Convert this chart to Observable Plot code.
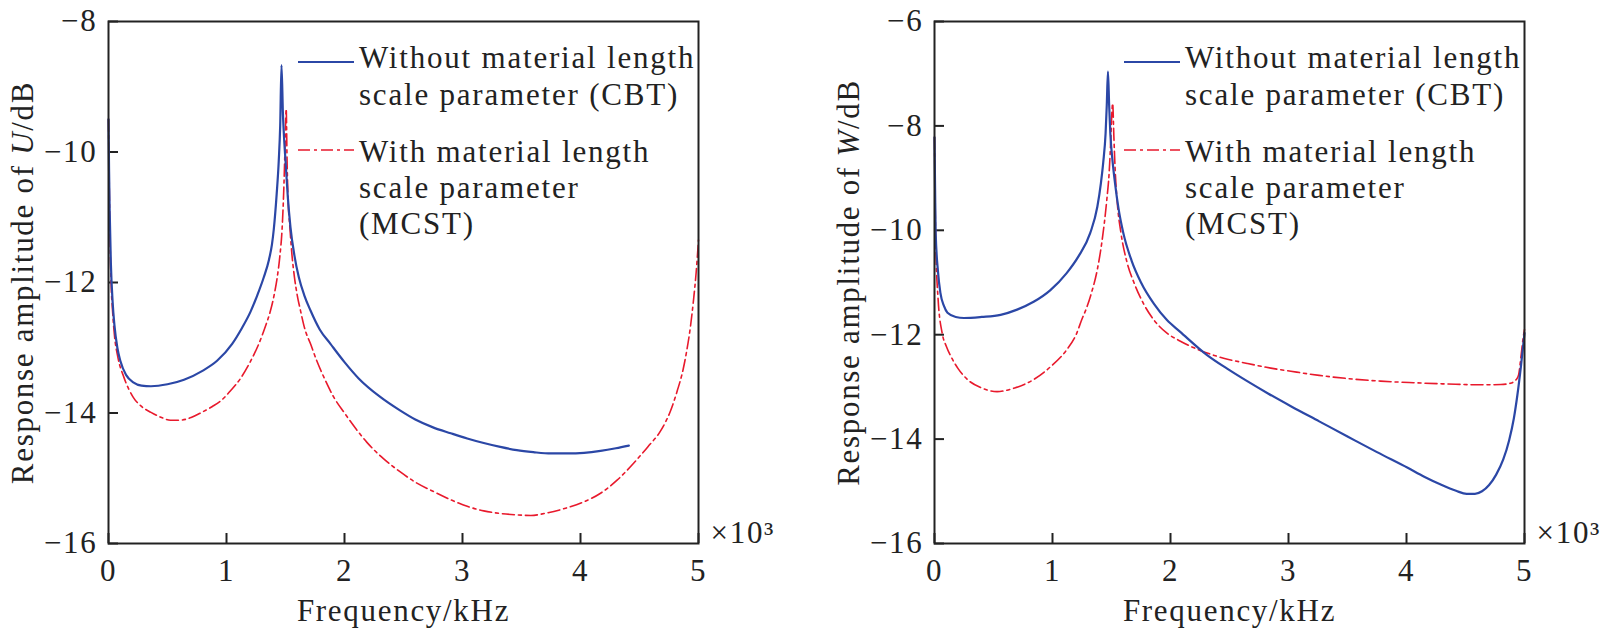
<!DOCTYPE html>
<html><head><meta charset="utf-8">
<script src="https://cdn.jsdelivr.net/npm/d3@7"></script>
<script src="https://cdn.jsdelivr.net/npm/@observablehq/plot@0.6"></script>
<style>
html,body{margin:0;padding:0;background:#fff;overflow:hidden;}
#wrap{display:flex;width:1606px;height:638px;}
#wrap svg{display:block;}
</style></head><body>
<div id="wrap"></div>
<script>
// ---------- data ----------
const xTicks = [0, 1, 2, 3, 4, 5];
const uTicks = [-16, -14, -12, -10, -8];
const wTicks = [-16, -14, -12, -10, -8, -6];
const legendCBT = ["Without material length", "scale parameter (CBT)"];
const legendMCST = ["With material length", "scale parameter", "(MCST)"];

// Left panel: U response
const uFreqCBT = [0, 0.005, 0.01, 0.02, 0.035, 0.05, 0.075, 0.10, 0.15, 0.21, 0.28, 0.36, 0.50, 0.64, 0.80, 0.92, 1.048, 1.13, 1.203, 1.26, 1.316, 1.36, 1.385, 1.401, 1.425, 1.443, 1.455, 1.466, 1.478, 1.49, 1.50, 1.52, 1.542, 1.575, 1.613, 1.66, 1.712, 1.79, 1.881, 2.0, 2.12, 2.30, 2.47, 2.60, 2.75, 2.90, 3.04, 3.18, 3.32, 3.46, 3.60, 3.75, 3.89, 4.03, 4.17, 4.30, 4.41];
const uAmpCBT  = [-9.5, -10.3, -10.9, -11.7, -12.3, -12.65, -13.0, -13.2, -13.42, -13.53, -13.58, -13.59, -13.56, -13.49, -13.35, -13.2, -12.94, -12.70, -12.45, -12.2, -11.92, -11.65, -11.42, -11.18, -10.65, -10.13, -9.6, -8.67, -9.4, -9.85, -10.13, -10.7, -11.15, -11.58, -11.92, -12.2, -12.43, -12.72, -12.94, -13.22, -13.47, -13.75, -13.96, -14.1, -14.22, -14.31, -14.39, -14.46, -14.52, -14.57, -14.6, -14.62, -14.62, -14.61, -14.58, -14.54, -14.5];
const uFreqMCST = [0, 0.005, 0.01, 0.02, 0.035, 0.05, 0.08, 0.13, 0.21, 0.28, 0.36, 0.45, 0.525, 0.60, 0.70, 0.78, 0.88, 0.96, 1.034, 1.119, 1.20, 1.274, 1.33, 1.373, 1.405, 1.43, 1.452, 1.472, 1.485, 1.495, 1.506, 1.513, 1.52, 1.537, 1.555, 1.576, 1.60, 1.627, 1.665, 1.712, 1.765, 1.825, 1.91, 2.0, 2.10, 2.19, 2.33, 2.47, 2.60, 2.75, 2.90, 3.04, 3.18, 3.32, 3.45, 3.58, 3.72, 3.89, 4.03, 4.17, 4.31, 4.45, 4.57, 4.68, 4.76, 4.82, 4.87, 4.90, 4.93, 4.96, 4.98, 5.0];
const uAmpMCST  = [-9.5, -10.3, -11.0, -11.9, -12.45, -12.8, -13.15, -13.45, -13.76, -13.9, -13.99, -14.07, -14.11, -14.11, -14.07, -14.0, -13.9, -13.8, -13.66, -13.47, -13.22, -12.94, -12.67, -12.43, -12.18, -11.92, -11.6, -11.15, -10.6, -10.0, -9.34, -10.1, -10.64, -11.15, -11.58, -11.92, -12.2, -12.43, -12.72, -12.94, -13.2, -13.45, -13.76, -14.0, -14.25, -14.45, -14.7, -14.9, -15.06, -15.2, -15.33, -15.43, -15.5, -15.54, -15.56, -15.57, -15.53, -15.45, -15.36, -15.23, -15.03, -14.77, -14.52, -14.27, -13.98, -13.66, -13.33, -13.05, -12.7, -12.23, -11.85, -11.35];

// Right panel: W response
const wFreqCBT = [0, 0.005, 0.01, 0.03, 0.05, 0.08, 0.11, 0.18, 0.25, 0.40, 0.56, 0.70, 0.84, 0.98, 1.12, 1.22, 1.32, 1.38, 1.41, 1.43, 1.45, 1.46, 1.47, 1.48, 1.49, 1.51, 1.53, 1.56, 1.60, 1.67, 1.75, 1.86, 1.97, 2.08, 2.31, 2.48, 2.65, 2.83, 3.02, 3.26, 3.50, 3.75, 4.01, 4.15, 4.29, 4.42, 4.51, 4.58, 4.64, 4.70, 4.76, 4.82, 4.87, 4.91, 4.94, 4.97, 5.0];
const wAmpCBT  = [-8.22, -9.2, -10.05, -10.8, -11.2, -11.45, -11.58, -11.66, -11.68, -11.66, -11.62, -11.52, -11.37, -11.15, -10.82, -10.5, -10.05, -9.55, -9.1, -8.7, -8.14, -7.6, -6.96, -7.6, -8.14, -8.7, -9.1, -9.59, -10.05, -10.58, -11.0, -11.41, -11.72, -11.94, -12.39, -12.65, -12.89, -13.13, -13.37, -13.66, -13.95, -14.25, -14.55, -14.72, -14.87, -14.99, -15.05, -15.05, -15.0, -14.88, -14.68, -14.39, -14.02, -13.6, -13.15, -12.6, -11.97];
const wFreqMCST = [0, 0.01, 0.03, 0.065, 0.10, 0.14, 0.20, 0.28, 0.40, 0.53, 0.68, 0.84, 0.98, 1.12, 1.20, 1.25, 1.29, 1.33, 1.38, 1.42, 1.46, 1.48, 1.49, 1.51, 1.52, 1.53, 1.55, 1.58, 1.63, 1.69, 1.77, 1.86, 1.97, 2.08, 2.31, 2.45, 2.65, 2.85, 3.02, 3.26, 3.50, 3.78, 4.06, 4.35, 4.63, 4.80, 4.88, 4.93, 4.95, 4.97, 4.99, 5.0];
const wAmpMCST  = [-8.22, -10.2, -11.3, -11.97, -12.22, -12.42, -12.65, -12.86, -13.02, -13.09, -13.02, -12.86, -12.62, -12.29, -12.0, -11.7, -11.48, -11.2, -10.75, -10.2, -9.42, -8.9, -8.47, -7.57, -8.2, -8.79, -9.5, -10.05, -10.6, -11.0, -11.4, -11.72, -11.97, -12.12, -12.35, -12.45, -12.55, -12.64, -12.70, -12.78, -12.84, -12.89, -12.92, -12.945, -12.96, -12.955, -12.93, -12.86, -12.77, -12.42, -12.04, -11.9];

// ---------- styles ----------
const BLUE = "#2b47a6";
const RED = "#e8192c";
const INK = "#222";
const FONT = "'Liberation Serif', 'DejaVu Serif', 'Noto Serif', 'Times New Roman', serif";
const FS = 31;
const LS = "1.7px";

function zip(fs, as) { return fs.map((f, i) => ({f, a: as[i]})); }

function makePanel({ml, mr, yDomain, yTicks, cbt, mcst, varName}) {
  const W = 803, H = 638, MT = 21, MB = 95;
  const ylabel = "Response amplitude of " + varName + "/dB";
  const txt = {fontFamily: FONT, fontSize: FS};
  const svg = Plot.plot({
    width: W, height: H,
    marginLeft: ml, marginRight: mr, marginTop: MT, marginBottom: MB,
    style: `font-family: ${FONT}; font-size: ${FS}px; color: ${INK}; background: white; overflow: visible; letter-spacing: ${LS};`,
    x: {domain: [0, 5], label: null},
    y: {domain: yDomain, label: null},
    marks: [
      Plot.axisX({ticks: xTicks, tickFormat: "d", tickSize: -10, tickPadding: 25, strokeWidth: 2, label: null, ...txt}),
      Plot.axisY({ticks: yTicks, tickFormat: "d", tickSize: -10, tickPadding: 21, strokeWidth: 2, label: null, ...txt}),
      Plot.line(mcst, {x: "f", y: "a", stroke: RED, strokeWidth: 1.6, strokeDasharray: "12,4,3,4", curve: "monotone-x"}),
      Plot.line(cbt, {x: "f", y: "a", stroke: BLUE, strokeWidth: 2.2, curve: "monotone-x"}),
      Plot.frame({stroke: INK, strokeWidth: 2}),
      Plot.text(["Frequency/kHz"], {text: d => d, frameAnchor: "bottom", dy: 77, lineAnchor: "bottom", fill: INK, ...txt}),
      Plot.text([ylabel], {text: d => d, frameAnchor: "left", dx: -76, rotate: -90, lineAnchor: "bottom", textAnchor: "middle", fill: INK, ...txt}),
      Plot.text(["×10³"], {text: d => d, frameAnchor: "bottom-right", dx: 12, dy: -1, lineAnchor: "bottom", textAnchor: "start", fill: INK, ...txt})
    ]
  });
  const sel = d3.select(svg);
  // italic variable in the y label
  sel.selectAll("text").each(function() {
    if (this.textContent === ylabel) {
      const t = d3.select(this);
      t.text(null);
      t.append("tspan").text("Response amplitude of ");
      t.append("tspan").attr("font-style", "italic").text(varName);
      t.append("tspan").text("/dB");
    }
  });
  // legend inside the frame
  const g = sel.append("g")
    .attr("font-family", FONT).attr("font-size", FS).attr("fill", INK)
    .attr("text-anchor", "start").attr("letter-spacing", "1.8px");
  const kx1 = ml + 190, kx2 = ml + 246, tx = ml + 251;
  const entries = [
    {lines: legendCBT, color: BLUE, dash: null, sw: 2.2, ky: 62, base: [68, 104.5]},
    {lines: legendMCST, color: RED, dash: "12,4,3,4", sw: 1.6, ky: 150, base: [161.5, 198, 233.5]}
  ];
  for (const e of entries) {
    g.append("line").attr("x1", kx1).attr("x2", kx2).attr("y1", e.ky).attr("y2", e.ky)
      .attr("stroke", e.color).attr("stroke-width", e.sw).attr("stroke-dasharray", e.dash);
    e.lines.forEach((s, i) => g.append("text").attr("x", tx).attr("y", e.base[i]).text(s));
  }
  sel.selectAll("text").style("font-family", FONT).style("fill", INK);
  return svg;
}

const wrap = document.getElementById("wrap");
wrap.appendChild(makePanel({ml: 108, mr: 105, yDomain: [-16, -8], yTicks: uTicks, cbt: zip(uFreqCBT, uAmpCBT), mcst: zip(uFreqMCST, uAmpMCST), varName: "U"}));
wrap.appendChild(makePanel({ml: 131, mr: 82, yDomain: [-16, -6], yTicks: wTicks, cbt: zip(wFreqCBT, wAmpCBT), mcst: zip(wFreqMCST, wAmpMCST), varName: "W"}));
</script>
</body></html>
